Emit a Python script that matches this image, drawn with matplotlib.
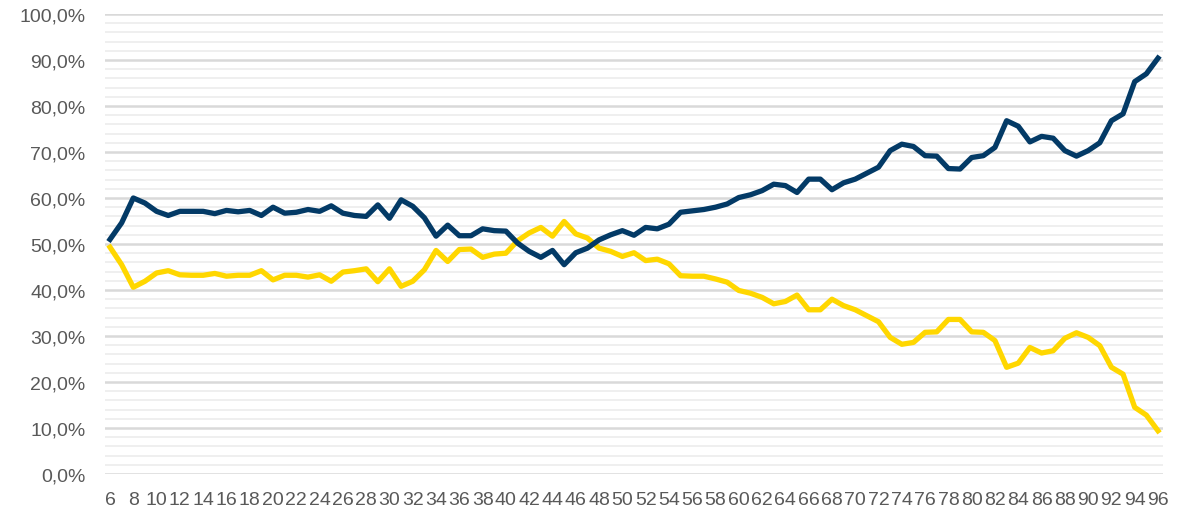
import matplotlib
matplotlib.use("Agg")
import matplotlib.pyplot as plt
from matplotlib.ticker import MultipleLocator, FuncFormatter

plt.rcParams['font.family'] = ['Liberation Sans', 'DejaVu Sans']

ages = list(range(6, 97))

blue = [51.0, 54.6, 60.0, 58.9, 57.1, 56.2, 57.1, 57.1, 57.1, 56.6,
        57.3, 57.0, 57.3, 56.2, 58.0, 56.7, 56.9, 57.5, 57.1, 58.3,
        56.7, 56.2, 56.0, 58.5, 55.6, 59.6, 58.2, 55.7, 51.7, 54.1,
        51.8, 51.8, 53.3, 52.9, 52.8, 50.2, 48.4, 47.1, 48.6, 45.5,
        48.1, 49.1, 50.9, 52.0, 52.9, 51.9, 53.6, 53.3, 54.3, 56.9,
        57.2, 57.5, 58.0, 58.7, 60.1, 60.7, 61.6, 63.0, 62.7, 61.2,
        64.1, 64.1, 61.8, 63.3, 64.1, 65.4, 66.7, 70.3, 71.7, 71.2,
        69.2, 69.1, 66.4, 66.3, 68.8, 69.2, 71.0, 76.8, 75.6, 72.2,
        73.4, 73.0, 70.3, 69.1, 70.3, 72.0, 76.8, 78.3, 85.3, 87.0,
        90.4]

yellow = [49.3, 45.5, 40.6, 41.9, 43.7, 44.2, 43.3, 43.2, 43.2, 43.6,
          43.0, 43.2, 43.2, 44.2, 42.2, 43.2, 43.2, 42.8, 43.3, 41.9,
          43.9, 44.2, 44.6, 41.8, 44.6, 40.8, 41.9, 44.4, 48.6, 46.2,
          48.8, 48.9, 47.1, 47.8, 48.0, 50.7, 52.4, 53.6, 51.7, 54.9,
          52.2, 51.3, 49.1, 48.4, 47.3, 48.1, 46.4, 46.7, 45.7, 43.1,
          43.0, 43.0, 42.4, 41.7, 39.9, 39.3, 38.4, 37.0, 37.5, 38.9,
          35.7, 35.7, 38.0, 36.6, 35.7, 34.4, 33.1, 29.7, 28.2, 28.6,
          30.8, 30.9, 33.6, 33.6, 30.9, 30.8, 29.0, 23.2, 24.1, 27.5,
          26.3, 26.8, 29.5, 30.7, 29.7, 27.9, 23.2, 21.7, 14.5, 12.8,
          9.4]

x_ticks = list(range(6, 97, 2))

fig = plt.figure(figsize=(11.91, 5.10), dpi=100)
ax = fig.add_axes([105/1191, 1 - 475/510, (1163-105)/1191, 460/510])

ax.plot(ages, yellow, color='#FFD700', lw=3.8, solid_joinstyle='round', zorder=3)
ax.plot(ages, blue, color='#033A66', lw=3.8, solid_joinstyle='round', zorder=4)

ax.set_ylim(0, 100)
ax.set_xlim(5.57, 96.43)
ax.yaxis.set_major_locator(MultipleLocator(10))
ax.yaxis.set_minor_locator(MultipleLocator(2))
ax.yaxis.set_major_formatter(FuncFormatter(lambda v, p: f"{v:.1f}".replace('.', ',') + "%"))
ax.set_xticks(x_ticks)
ax.set_xticklabels([str(t) for t in x_ticks])

ax.grid(axis='y', which='major', color='#D9D9D9', lw=1.8, zorder=0)
ax.grid(axis='y', which='minor', color='#EFEFEF', lw=1.4, zorder=0)
ax.grid(axis='x', visible=False)
for s in ax.spines.values():
    s.set_visible(False)
ax.tick_params(axis='both', which='both', length=0, labelsize=14, colors='#595959')
ax.tick_params(axis='y', pad=14)
ax.tick_params(axis='x', pad=12)
ax.set_axisbelow(True)

fig.savefig('out.png', dpi=100)
